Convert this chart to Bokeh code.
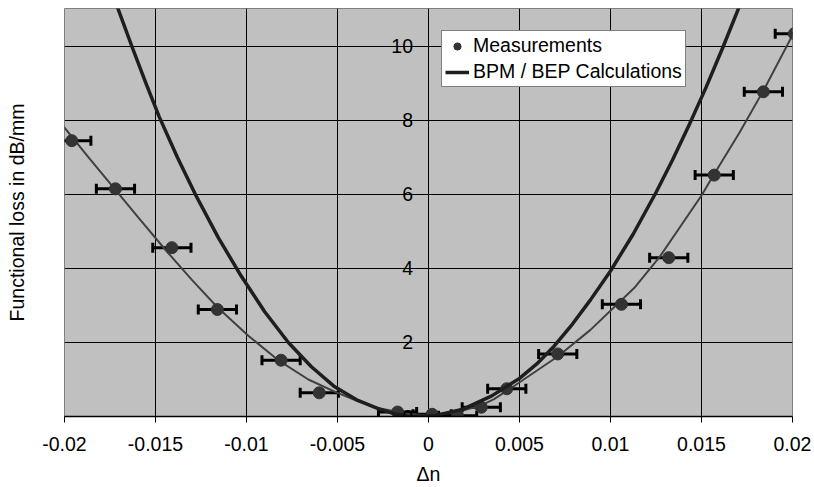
from bokeh.plotting import figure
from bokeh.models import ColumnDataSource, Range1d, FixedTicker, Whisker, TeeHead, LabelSet
from bokeh.core.properties import value
from bokeh.embed import file_html
from bokeh.resources import INLINE

FONT = "Liberation Sans"

# ---- data ----
x_ticks = [-0.02, -0.015, -0.01, -0.005, 0.0, 0.005, 0.01, 0.015, 0.02]
x_tick_labels = ["-0.02", "-0.015", "-0.01", "-0.005", "0", "0.005", "0.01", "0.015", "0.02"]
y_ticks = [0, 2, 4, 6, 8, 10]
y_tick_labels = ["0", "2", "4", "6", "8", "10"]

# measured points (Δn, loss in dB/mm) and their Δn error
meas_x = [-0.0196, -0.0172, -0.0141, -0.0116, -0.0081, -0.0060, -0.0017, 0.0002, 0.0016,
          0.0029, 0.0043, 0.0071, 0.0106, 0.0132, 0.0157, 0.0184, 0.0201]
meas_y = [7.45, 6.15, 4.56, 2.89, 1.52, 0.64, 0.12, 0.06, 0.02,
          0.25, 0.75, 1.69, 3.03, 4.29, 6.52, 8.77, 10.34]
meas_err = [0.00105] * len(meas_x)

fit_x = [-0.0205, -0.0200, -0.0186, -0.0172, -0.0158, -0.0144, -0.0130, -0.0116, -0.0099,
         -0.0082, -0.0066, -0.0051, -0.0039, -0.0027, -0.0013, 0.0000, 0.0015, 0.0029,
         0.0036, 0.0043, 0.0071, 0.0089, 0.0113, 0.0127, 0.0150, 0.0157, 0.0171, 0.0184,
         0.0200, 0.0206]
fit_y = [8.10, 7.80, 6.95, 6.12, 5.29, 4.47, 3.69, 2.95, 2.18,
         1.50, 1.00, 0.66, 0.42, 0.22, 0.08, 0.03, 0.11, 0.30,
         0.47, 0.69, 1.62, 2.34, 3.47, 4.31, 5.97, 6.55, 7.68, 8.80,
         10.30, 10.90]

# thick BPM / BEP calculation curve
bpm_x = [-0.0172, -0.0163, -0.01555, -0.0148, -0.0138, -0.0128, -0.01155, -0.0103, -0.0090,
         -0.0077, -0.00645, -0.0052, -0.00395, -0.0027, -0.00185, -0.0010, 0.0004, 0.0019,
         0.00345, 0.0050, 0.00595, 0.0069, 0.0079, 0.0089, 0.0100, 0.01125, 0.0125, 0.0134,
         0.0143, 0.01525, 0.0162, 0.0171]
bpm_y = [11.20, 10.00, 9.03, 8.10, 7.00, 5.99, 4.83, 3.80, 2.83,
         2.00, 1.35, 0.82, 0.45, 0.20, 0.07, 0.00, 0.03, 0.20,
         0.55, 1.03, 1.42, 1.90, 2.49, 3.15, 3.93, 4.93, 6.05, 6.92,
         7.85, 8.89, 10.00, 11.10]

# ---- figure ----
p = figure(width=814, height=487, output_backend="svg", toolbar_location=None,
           x_range=Range1d(-0.02, 0.02), y_range=Range1d(0, 11.02),
           min_border_left=64, min_border_right=22, min_border_top=8, min_border_bottom=69)
p.background_fill_color = "#c0c0c0"
p.border_fill_color = "white"
p.outline_line_color = "#808080"
p.outline_line_width = 1

# grids
p.xgrid.ticker = FixedTicker(ticks=x_ticks[1:-1])
p.ygrid.ticker = FixedTicker(ticks=y_ticks[1:])
p.xgrid.grid_line_color = "black"
p.ygrid.grid_line_color = "black"
p.xgrid.grid_line_width = 1
p.ygrid.grid_line_width = 1

FS = "19.5px"

# x axis
xa = p.xaxis[0]
xa.ticker = FixedTicker(ticks=x_ticks)
xa.major_label_overrides = {t: l for t, l in zip(x_ticks, x_tick_labels)}
xa.major_tick_out = 6
xa.major_tick_in = 0
xa.minor_tick_out = 0
xa.minor_tick_in = 0
xa.axis_line_color = "black"
xa.axis_line_width = 1.5
xa.major_tick_line_color = "black"
xa.major_label_standoff = 14
xa.major_label_text_font = FONT
xa.major_label_text_font_size = FS
xa.major_label_text_color = "black"
xa.axis_label = "Δn"
xa.axis_label_standoff = 9
xa.axis_label_text_font = FONT
xa.axis_label_text_font_size = FS
xa.axis_label_text_font_style = "normal"
xa.axis_label_text_color = "black"

# y axis (only the title; numbers drawn next to the x=0 line)
ya = p.yaxis[0]
ya.ticker = FixedTicker(ticks=[])
ya.axis_line_color = None
ya.major_tick_out = 0
ya.major_tick_in = 0
ya.minor_tick_out = 0
ya.minor_tick_in = 0
ya.major_label_standoff = 0
ya.axis_label = "Functional loss in dB/mm"
ya.axis_label_standoff = 37
ya.axis_label_text_font = FONT
ya.axis_label_text_font_size = FS
ya.axis_label_text_font_style = "normal"
ya.axis_label_text_color = "black"

ylab_src = ColumnDataSource(dict(x=[0.0] * len(y_ticks), y=y_ticks, text=y_tick_labels))
ylabels = LabelSet(x="x", y="y", text="text", source=ylab_src, x_offset=-15.5,
                   text_align="right", text_baseline="middle",
                   text_font=value(FONT), text_font_size=FS, text_color="black")
p.add_layout(ylabels)

# measurements with horizontal error bars
src = ColumnDataSource(dict(
    x=meas_x, y=meas_y,
    lower=[x - e for x, e in zip(meas_x, meas_err)],
    upper=[x + e for x, e in zip(meas_x, meas_err)],
))
whisk = Whisker(source=src, base="y", lower="lower", upper="upper", dimension="width",
                line_color="black", line_width=3, level="underlay",
                upper_head=TeeHead(size=10, line_color="black", line_width=3),
                lower_head=TeeHead(size=10, line_color="black", line_width=3))
p.add_layout(whisk)

p.line(fit_x, fit_y, line_color="#404040", line_width=2, line_join="round")
p.scatter(x="x", y="y", source=src, size=12, fill_color="#333333", line_color="#333333",
          legend_label="Measurements")
p.line(bpm_x, bpm_y, line_color="#1e1e1e", line_width=3.5, line_join="round",
       legend_label="BPM / BEP Calculations")

lg = p.legend[0]
lg.location = (377, 329)
lg.margin = 0
lg.padding = 3
lg.spacing = 3
lg.glyph_width = 24
lg.glyph_height = 18
lg.label_height = 18
lg.label_standoff = 4
lg.label_text_font = FONT
lg.label_text_font_size = FS
lg.label_text_color = "black"
lg.border_line_color = "black"
lg.border_line_width = 1
lg.background_fill_color = "white"
lg.background_fill_alpha = 1.0

open("out.html", "w").write(file_html(p, INLINE))
